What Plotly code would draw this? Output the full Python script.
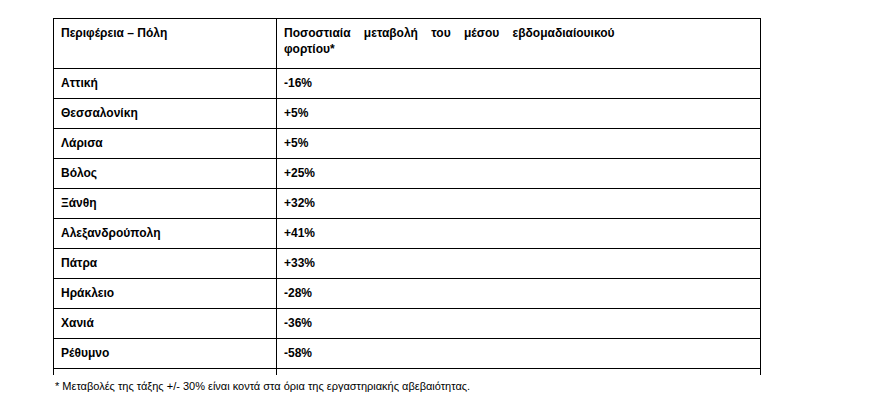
import plotly.graph_objects as go

header_labels = ["Περιφέρεια – Πόλη",
                 "Ποσοστιαία&nbsp;&nbsp;&nbsp;&nbsp;μεταβολή&nbsp;&nbsp;&nbsp;&nbsp;του&nbsp;&nbsp;&nbsp;&nbsp;μέσου&nbsp;&nbsp;&nbsp;&nbsp;εβδομαδιαίουικού<br>φορτίου*"]
cities = ["Αττική", "Θεσσαλονίκη", "Λάρισα", "Βόλος", "Ξάνθη", "Αλεξανδρούπολη", "Πάτρα",
          "Ηράκλειο", "Χανιά", "Ρέθυμνο", "Άγιος Νικόλαος", "Ιωάννινα", "Κέρκυρα"]
changes = ["-16%", "+5%", "+5%", "+25%", "+32%", "+41%", "+33%",
           "-28%", "-36%", "-58%", "-31%", "-54%", "-57%"]
footnote = "* Μεταβολές της τάξης +/- 30% είναι κοντά στα όρια της εργαστηριακής αβεβαιότητας."

W, H = 880, 402
fnt = dict(family="Liberation Sans", size=12, color="black")
fig = go.Figure(go.Table(
    domain=dict(x=[45 / W, 752 / W], y=[1 - 367 / H, 1 - 10 / H]),
    columnwidth=[223, 484],
    header=dict(values=[f"<b>{h}</b>" for h in header_labels],
                align="left", height=50, fill_color="white",
                line=dict(color="black", width=1), font=fnt),
    cells=dict(values=[[f"<b>{c}</b>" for c in cities], [f"<b>{v}</b>" for v in changes]],
               align="left", height=23.6, fill_color="white",
               line=dict(color="black", width=1), font=fnt),
))
fig.update_traces(header_font_size=12, cells_font_size=12)
fig.add_annotation(text=footnote, x=45 / W, y=1 - 378 / H, xref="paper", yref="paper",
                   xanchor="left", yanchor="middle", showarrow=False,
                   font=dict(family="Liberation Sans", size=11, color="black"))
fig.update_layout(width=W, height=H, margin=dict(l=0, r=0, t=0, b=0),
                  paper_bgcolor="white", plot_bgcolor="white")
fig.write_html("out.html")
